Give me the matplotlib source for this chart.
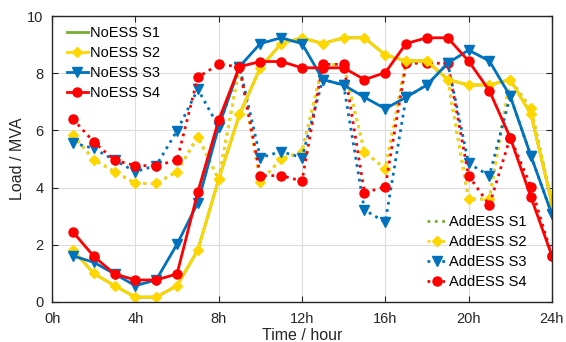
import matplotlib
matplotlib.use("Agg")
import matplotlib.pyplot as plt

plt.rcParams['font.family'] = ['Liberation Sans', 'DejaVu Sans']

hours = list(range(1, 25))

no_s2 = [1.82, 1.0, 0.57, 0.17, 0.17, 0.57, 1.82, 4.29, 6.56, 8.19, 9.04, 9.24,
         9.04, 9.24, 9.24, 8.64, 8.43, 8.43, 7.78, 7.59, 7.59, 7.78, 6.56, 3.47]
no_s3 = [1.61, 1.39, 0.98, 0.57, 0.77, 2.02, 3.47, 6.13, 8.23, 9.04, 9.24, 9.04,
         7.78, 7.59, 7.16, 6.76, 7.16, 7.59, 8.35, 8.81, 8.43, 7.2, 5.1, 3.07]
no_s4 = [2.45, 1.6, 0.98, 0.77, 0.77, 0.98, 3.85, 6.36, 8.23, 8.41, 8.41, 8.19,
         8.19, 8.19, 7.78, 8.02, 9.04, 9.24, 9.24, 8.43, 7.39, 5.75, 3.66, 1.62]
no_s1 = no_s2

add_s2 = [5.84, 4.98, 4.56, 4.15, 4.15, 4.56, 5.78, 4.29, 8.23, 4.21, 5.0, 5.26,
          8.3, 8.3, 5.26, 4.65, 8.43, 8.43, 7.78, 3.6, 3.6, 7.78, 6.77, 3.47]
add_s3 = [5.57, 5.37, 4.96, 4.56, 4.77, 5.99, 7.44, 6.13, 8.23, 5.05, 5.26, 5.05,
          7.78, 7.59, 3.22, 2.79, 7.16, 7.59, 8.35, 4.85, 4.42, 7.2, 5.1, 3.07]
add_s4 = [6.4, 5.6, 4.96, 4.77, 4.77, 4.96, 7.86, 8.31, 8.23, 4.42, 4.42, 4.23,
          8.31, 8.31, 3.82, 4.03, 8.35, 8.35, 8.35, 4.42, 3.39, 5.75, 4.03, 1.62]
add_s1 = add_s2

xticks = [0, 4, 8, 12, 16, 20, 24]
xticklabels = ['0h', '4h', '8h', '12h', '16h', '20h', '24h']
yticks = [0, 2, 4, 6, 8, 10]

green = '#77AC30'
yellow = '#FFD700'
blue = '#0072BD'
red = '#FF0000'

fig = plt.figure(figsize=(5.66, 3.42), dpi=100)
ax = fig.add_axes([0.092, 0.117, 0.883, 0.836])

lw = 2.0
ms = 6.5

# AddESS (dotted)
la1, = ax.plot(hours, add_s1, ':', color=green, lw=lw)
la2, = ax.plot(hours, add_s2, ':', color=yellow, lw=lw, marker='D', ms=5.5)
la3, = ax.plot(hours, add_s3, ':', color=blue, lw=lw, marker='v', ms=ms)
la4, = ax.plot(hours, add_s4, ':', color=red, lw=lw, marker='o', ms=ms)

# NoESS (solid)
ln1, = ax.plot(hours, no_s1, '-', color=green, lw=lw)
ln2, = ax.plot(hours, no_s2, '-', color=yellow, lw=lw, marker='D', ms=5.5)
ln3, = ax.plot(hours, no_s3, '-', color=blue, lw=lw, marker='v', ms=ms)
ln4, = ax.plot(hours, no_s4, '-', color=red, lw=lw, marker='o', ms=ms)

ax.set_xlim(0, 24)
ax.set_ylim(0, 10)
ax.set_xticks(xticks)
ax.set_xticklabels(xticklabels)
ax.set_yticks(yticks)
ax.grid(True, color='#dcdcdc', lw=0.8)
ax.set_axisbelow(True)
ax.tick_params(direction='in', top=True, right=True, labelsize=10.5,
               colors='#262626', length=4)
ax.tick_params(axis='x', pad=7)
ax.tick_params(axis='y', pad=6)
for s in ax.spines.values():
    s.set_color('#262626')
    s.set_linewidth(1.0)

ax.set_xlabel('Time / hour', fontsize=11.5, color='#262626', labelpad=2)
ax.set_ylabel('Load / MVA', fontsize=11.5, color='#262626', labelpad=2)

leg1 = ax.legend([ln1, ln2, ln3, ln4], ['NoESS S1', 'NoESS S2', 'NoESS S3', 'NoESS S4'],
                 loc='upper left', frameon=False, fontsize=10.5, handlelength=1.4,
                 handletextpad=0.15, labelspacing=0.4, borderaxespad=0.3,
                 bbox_to_anchor=(0.01, 1.0))
ax.add_artist(leg1)
ax.legend([la1, la2, la3, la4], ['AddESS S1', 'AddESS S2', 'AddESS S3', 'AddESS S4'],
          loc='lower right', frameon=False, fontsize=10.5, handlelength=1.4,
          handletextpad=0.15, labelspacing=0.4, borderaxespad=0.3,
          bbox_to_anchor=(0.97, 0.01))

fig.savefig('out.png', dpi=100)
